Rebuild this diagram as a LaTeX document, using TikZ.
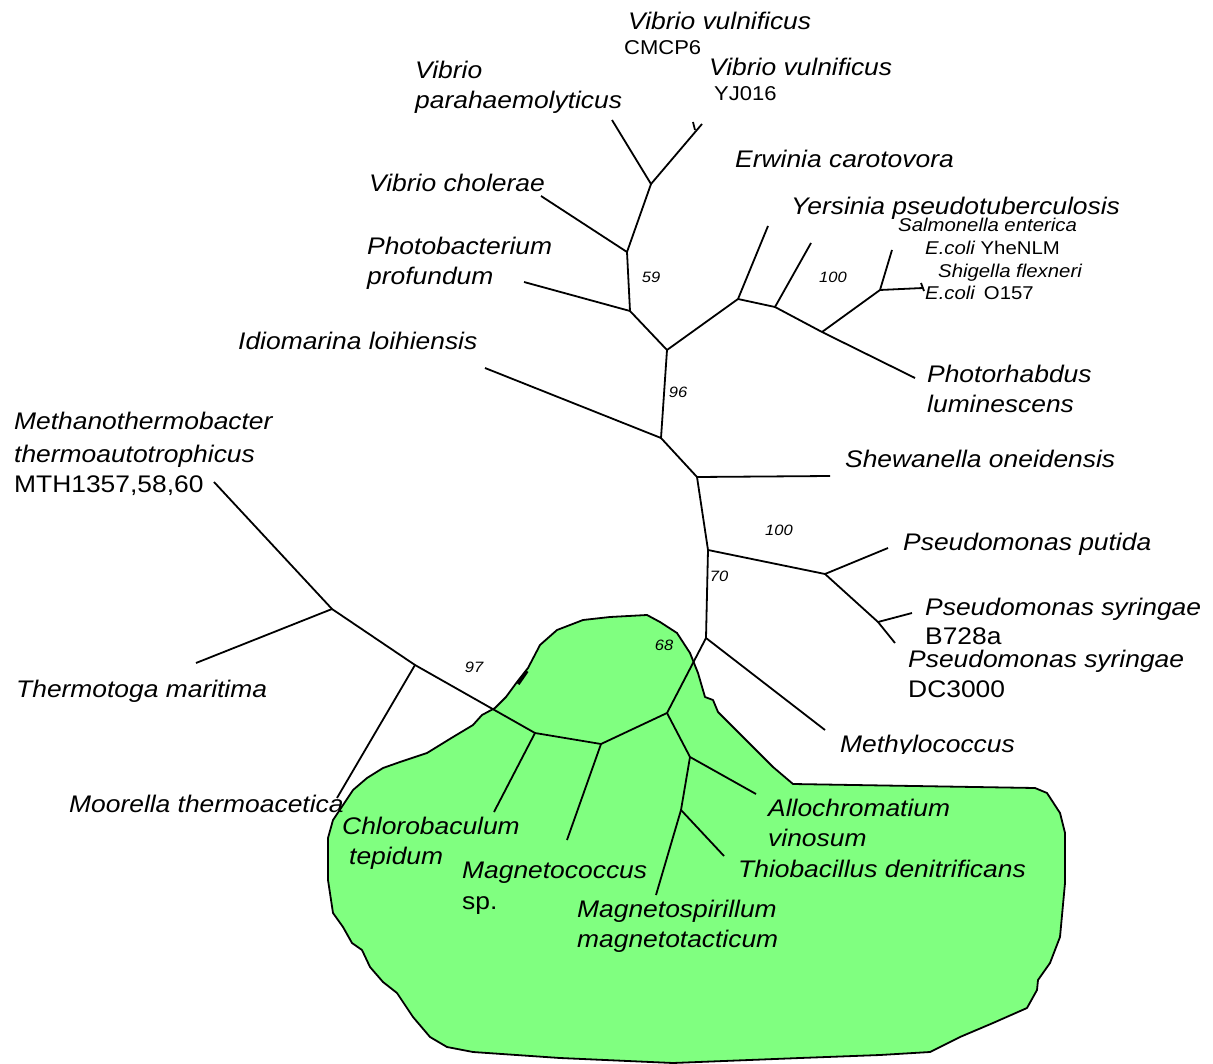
\documentclass[tikz,border=0pt]{standalone}
\usepackage{fontspec}
\setmainfont[FakeStretch=1.1]{Liberation Sans}
\definecolor{blobgreen}{RGB}{128,255,128}
\tikzset{
  br/.style={line width=1.8pt},
  blob/.style={fill=blobgreen, draw=black, line width=1.8pt, line join=round},
  lab/.style={anchor=base west, inner sep=0pt, font=\fontsize{24}{28}\selectfont\itshape},
  labup/.style={anchor=base west, inner sep=0pt, font=\fontsize{24}{28}\selectfont},
  strainmid/.style={anchor=base west, inner sep=0pt, font=\fontsize{20}{24}\selectfont},
  labsmall/.style={anchor=base west, inner sep=0pt, font=\fontsize{18.5}{22}\selectfont\itshape},
  boot/.style={inner sep=0pt, font=\fontsize{15}{18}\selectfont\itshape},
}
\begin{document}
\begin{tikzpicture}[x=1pt,y=-1pt]
\useasboundingbox (0,0) rectangle (1213,1064);
% green region
\draw[blob] (495,708) -- (506,697) -- (517,682) -- (528,668) -- (540,645) -- (557,630) -- (583,620) -- (610,617) -- (647,615) -- (660,622) -- (677,633) -- (690,653) -- (698,673) -- (705,697) -- (713,700) -- (718,712) -- (733,727) -- (753,747) -- (773,767) -- (793,784) -- (1035,788) -- (1047,793) -- (1060,813) -- (1065,833) -- (1065,883) -- (1060,937) -- (1050,963) -- (1038,980) -- (1037,990) -- (1027,1008) -- (993,1023) -- (960,1037) -- (930,1052) -- (880,1055) -- (800,1058) -- (673,1063) -- (560,1058) -- (473,1052) -- (447,1047) -- (430,1037) -- (413,1017) -- (397,993) -- (383,982) -- (370,967) -- (362,950) -- (352,943) -- (343,927) -- (333,913) -- (328,880) -- (328,838) -- (333,820) -- (343,805) -- (353,790) -- (367,778) -- (383,768) -- (400,762) -- (427,753) -- (453,737) -- (473,725) -- (482,715) -- cycle;
\draw[line width=3.5pt] (518,684) -- (527,671);

% tree coordinates
\coordinate (A) at (651,184); \coordinate (vp) at (612,120); \coordinate (vv) at (702,124);
\coordinate (B) at (627,252); \coordinate (vc) at (541,196);
\coordinate (C) at (630,311); \coordinate (pp) at (524,282);
\coordinate (D) at (667,350);
\coordinate (E) at (738,299); \coordinate (er) at (768,226);
\coordinate (F) at (775,307); \coordinate (ye) at (811,243);
\coordinate (G) at (822,332); \coordinate (ph) at (915,378);
\coordinate (H) at (880,290); \coordinate (sa) at (892,250); \coordinate (ec) at (923,288);
\coordinate (I) at (661,438); \coordinate (id) at (485,368);
\coordinate (J) at (697,477); \coordinate (sh) at (830,476);
\coordinate (K) at (708,550);
\coordinate (L) at (825,574); \coordinate (pu) at (888,548);
\coordinate (M) at (878,622); \coordinate (sy1) at (912,613); \coordinate (sy2) at (895,643);
\coordinate (N) at (706,638); \coordinate (me) at (825,730);
\coordinate (O) at (667,713);
\coordinate (P) at (601,744); \coordinate (mc) at (567,840);
\coordinate (Q) at (535,733); \coordinate (cb) at (494,812);
\coordinate (R) at (415,665); \coordinate (mo) at (337,798);
\coordinate (S) at (332,609); \coordinate (mt) at (214,482); \coordinate (tm) at (196,663);
\coordinate (T) at (690,757); \coordinate (al) at (756,794);
\coordinate (U) at (681,810); \coordinate (th) at (724,856); \coordinate (ms) at (656,895);
\coordinate (vt1) at (695,130); \coordinate (vt2) at (693,122);
\coordinate (et1) at (921,283); \coordinate (et2) at (924,291);

% branches
\draw[br] (vp) -- (A) -- (vv);
\draw[br] (vt1) -- (vt2);
\draw[br] (A) -- (B) -- (vc);
\draw[br] (B) -- (C) -- (pp);
\draw[br] (C) -- (D) -- (E) -- (er);
\draw[br] (E) -- (F) -- (ye);
\draw[br] (F) -- (G) -- (ph);
\draw[br] (G) -- (H) -- (sa);
\draw[br] (H) -- (ec);
\draw[br] (et1) -- (et2);
\draw[br] (D) -- (I) -- (id);
\draw[br] (I) -- (J) -- (sh);
\draw[br] (J) -- (K) -- (L) -- (pu);
\draw[br] (L) -- (M) -- (sy2);
\draw[br] (M) -- (sy1);
\draw[br] (K) -- (N) -- (me);
\draw[br] (N) -- (O) -- (P) -- (Q) -- (R) -- (S) -- (mt);
\draw[br] (S) -- (tm);
\draw[br] (R) -- (mo);
\draw[br] (Q) -- (cb);
\draw[br] (P) -- (mc);
\draw[br] (O) -- (T) -- (al);
\draw[br] (T) -- (U) -- (th);
\draw[br] (U) -- (ms);

% bootstrap values
\node[boot] (b59) at (651,277) {59};
\node[boot] (b96) at (678,392) {96};
\node[boot] (b100a) at (833,277) {100};
\node[boot] (b100b) at (779,530) {100};
\node[boot] (b70) at (719,576) {70};
\node[boot] (b68) at (664,645) {68};
\node[boot] (b97) at (474,667) {97};

% leaf labels
\node[lab] (tvv1) at (628,30) {Vibrio vulnificus};
\node[strainmid] (tcm) at (624,55) {CMCP6};
\node[lab] (tvv2) at (709,76) {Vibrio vulnificus};
\node[strainmid] (tyj) at (714,101) {YJ016};
\node[lab] (tvp1) at (415,79) {Vibrio};
\node[lab] (tvp2) at (415,109) {parahaemolyticus};
\node[lab] (tvc) at (369,192) {Vibrio cholerae};
\node[lab] (ter) at (735,168) {Erwinia carotovora};
\node[lab] (tye) at (791,215) {Yersinia pseudotuberculosis};
\node[labsmall] (tsa) at (898,232) {Salmonella enterica};
\node[labsmall] (tey) at (925,255) {E.coli \upshape YheNLM};
\node[labsmall] (tsf) at (938,278) {Shigella flexneri};
\node[labsmall] (teo) at (925,300) {E.coli\hspace{9pt}\upshape O157};
\node[lab] (tpb1) at (367,255) {Photobacterium};
\node[lab] (tpb2) at (367,285) {profundum};
\node[lab] (tid) at (238,350) {Idiomarina loihiensis};
\node[lab] (tph1) at (927,383) {Photorhabdus};
\node[lab] (tph2) at (927,413) {luminescens};
\node[lab] (tmt1) at (14,430) {Methanothermobacter};
\node[lab] (tmt2) at (14,462) {thermoautotrophicus};
\node[labup] (tmt3) at (14,492) {MTH1357,58,60};
\node[lab] (tsh) at (845,467) {Shewanella oneidensis};
\node[lab] (tpu) at (903,550) {Pseudomonas putida};
\node[lab] (tsy1) at (925,615) {Pseudomonas syringae};
\node[labup] (tsy1b) at (925,644) {B728a};
\node[lab] (tsy2) at (908,667) {Pseudomonas syringae};
\node[labup] (tsy2b) at (908,697) {DC3000};
\node[lab] (ttm) at (16,697) {Thermotoga maritima};
\begin{scope}
\clip (830,700) rectangle (1100,753);
\node[lab] (tme) at (840,752) {Methylococcus};
\end{scope}
\node[lab] (tmo) at (69,812) {Moorella thermoacetica};
\node[lab] (tcb1) at (342,834) {Chlorobaculum};
\node[lab] (tcb2) at (349,864) {tepidum};
\node[lab] (tmc1) at (462,878) {Magnetococcus};
\node[labup] (tmc2) at (462,909) {sp.};
\node[lab] (tal1) at (768,816) {Allochromatium};
\node[lab] (tal2) at (768,846) {vinosum};
\node[lab] (tth) at (738,877) {Thiobacillus denitrificans};
\node[lab] (tms1) at (577,917) {Magnetospirillum};
\node[lab] (tms2) at (577,947) {magnetotacticum};
\end{tikzpicture}
\end{document}
